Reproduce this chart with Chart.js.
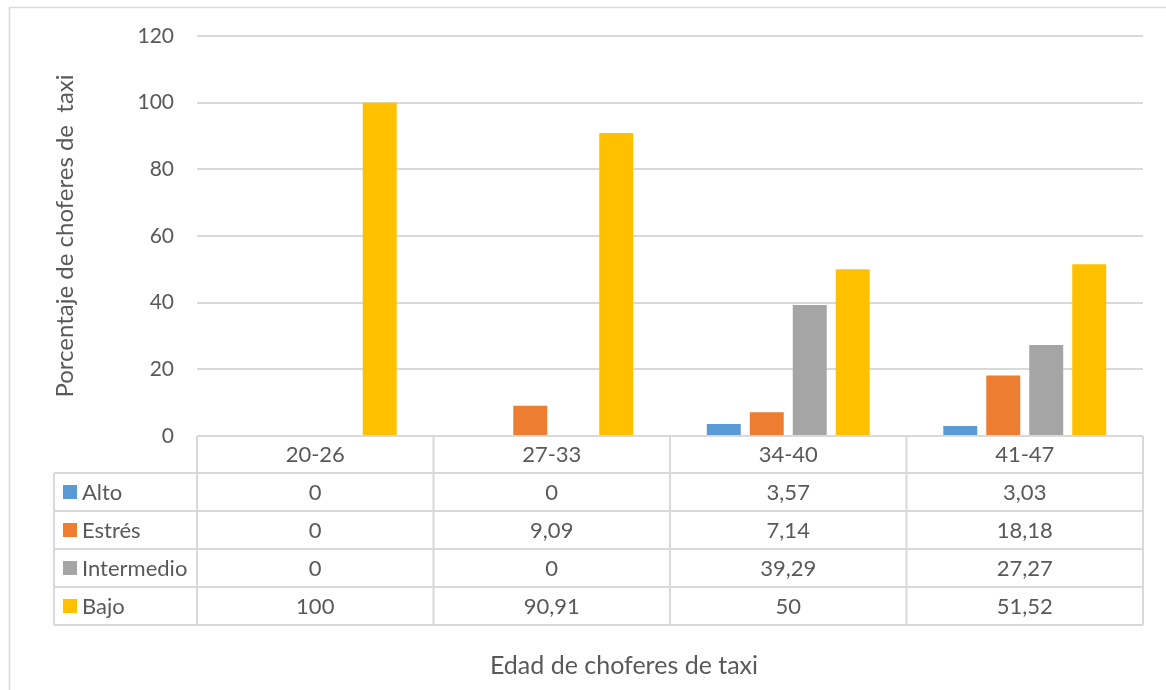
<!DOCTYPE html>
<html lang="es">
<head>
<meta charset="utf-8">
<title>Edad de choferes de taxi</title>
<script src="https://cdn.jsdelivr.net/npm/chart.js@4.4.1/dist/chart.umd.min.js"></script>
<style>
    html, body { margin: 0; padding: 0; background: #fff; }
    #contenedor { width: 1166px; height: 690px; position: relative; }
</style>
</head>
<body>
<div id="contenedor"><canvas id="miGrafica"></canvas></div>
<script>
const categorias = ['20-26', '27-33', '34-40', '41-47'];
const series = ['Alto', 'Estrés', 'Intermedio', 'Bajo'];
const alto = [0, 0, 3.57, 3.03];
const estres = [0, 9.09, 7.14, 18.18];
const intermedio = [0, 0, 39.29, 27.27];
const bajo = [100, 90.91, 50, 51.52];
const ticksY = [0, 20, 40, 60, 80, 100, 120];

const colores = ['#5B9BD5', '#ED7D31', '#A5A5A5', '#FFC000'];
const valores = [alto, estres, intermedio, bajo];
const colorTexto = '#595959';
const colorLinea = '#D9D9D9';
const fuente = 'Lato, "Open Sans", sans-serif';

Chart.defaults.font.family = fuente;
Chart.defaults.color = colorTexto;

// Formato con coma decimal como en la tabla original
function formato(v) {
    return String(v).replace('.', ',');
}

// Marco exterior del gráfico
const marco = {
    id: 'marco',
    beforeDraw(chart) {
        const ctx = chart.ctx;
        ctx.save();
        ctx.strokeStyle = colorLinea;
        ctx.lineWidth = 1.5;
        ctx.strokeRect(9.5, 7.5, 1400, 1000);
        ctx.restore();
    }
};

// Tabla de datos debajo del eje X
const tablaDatos = {
    id: 'tablaDatos',
    afterDraw(chart) {
        const ctx = chart.ctx;
        const area = chart.chartArea;
        const x = chart.scales.x;
        const alto = 38;
        const izq = 54;
        const anchoCat = (area.right - area.left) / categorias.length;
        const yCab = area.bottom;
        const yFilas = yCab + 37;
        const yFin = yFilas + alto * series.length;

        ctx.save();
        ctx.strokeStyle = colorLinea;
        ctx.lineWidth = 2;

        // líneas horizontales
        ctx.beginPath();
        ctx.moveTo(area.left, yCab);
        ctx.lineTo(area.right, yCab);
        for (let i = 0; i <= series.length; i++) {
            const y = yFilas + i * alto;
            ctx.moveTo(izq, y);
            ctx.lineTo(area.right, y);
        }
        // líneas verticales
        ctx.moveTo(izq, yFilas);
        ctx.lineTo(izq, yFin);
        for (let i = 0; i <= categorias.length; i++) {
            const xx = area.left + i * anchoCat;
            ctx.moveTo(xx, yCab);
            ctx.lineTo(xx, yFin);
        }
        ctx.stroke();

        ctx.fillStyle = colorTexto;
        ctx.font = '22px ' + fuente;
        ctx.textBaseline = 'middle';
        ctx.textAlign = 'center';

        categorias.forEach((c, i) => {
            ctx.fillText(c, x.getPixelForValue(i), yCab + 19);
        });

        series.forEach((s, j) => {
            const yc = yFilas + j * alto + alto / 2;
            ctx.fillStyle = colores[j];
            ctx.fillRect(63, yc - 7, 14, 14);
            ctx.fillStyle = colorTexto;
            ctx.textAlign = 'left';
            ctx.fillText(s, 82, yc + 1);
            ctx.textAlign = 'center';
            valores[j].forEach((v, i) => {
                ctx.fillText(formato(v), x.getPixelForValue(i), yc + 1);
            });
        });

        // título del eje X
        ctx.font = '25px ' + fuente;
        ctx.fillText('Edad de choferes de taxi', 624, 666);
        ctx.restore();
    }
};

const ctx = document.getElementById('miGrafica').getContext('2d');

window.myChart = new Chart(ctx, {
    type: 'bar',
    data: {
        labels: categorias,
        datasets: series.map((s, j) => ({
            label: s,
            data: valores[j],
            backgroundColor: colores[j],
            borderWidth: 0,
            categoryPercentage: 0.727,
            barPercentage: 0.79
        }))
    },
    options: {
        responsive: true,
        maintainAspectRatio: false,
        animation: false,
        layout: {
            padding: { top: 36, right: 23, bottom: 254, left: 0 }
        },
        plugins: {
            legend: { display: false },
            tooltip: {
                callbacks: {
                    label: (context) => `${context.dataset.label}: ${formato(context.parsed.y)}`
                }
            }
        },
        scales: {
            x: {
                display: false
            },
            y: {
                min: 0,
                max: 120,
                afterBuildTicks: (scale) => {
                    scale.ticks = ticksY.map(v => ({ value: v }));
                },
                afterFit: (scale) => {
                    scale.width = 197;
                },
                ticks: {
                    padding: 23,
                    color: colorTexto,
                    font: { size: 21 }
                },
                grid: {
                    color: colorLinea,
                    lineWidth: 2,
                    drawTicks: false
                },
                border: { display: false },
                title: {
                    display: true,
                    text: 'Porcentaje de choferes de  taxi',
                    color: colorTexto,
                    font: { size: 24 },
                    padding: { top: 51, bottom: 0 }
                }
            }
        }
    },
    plugins: [marco, tablaDatos]
});
</script>
</body>
</html>
